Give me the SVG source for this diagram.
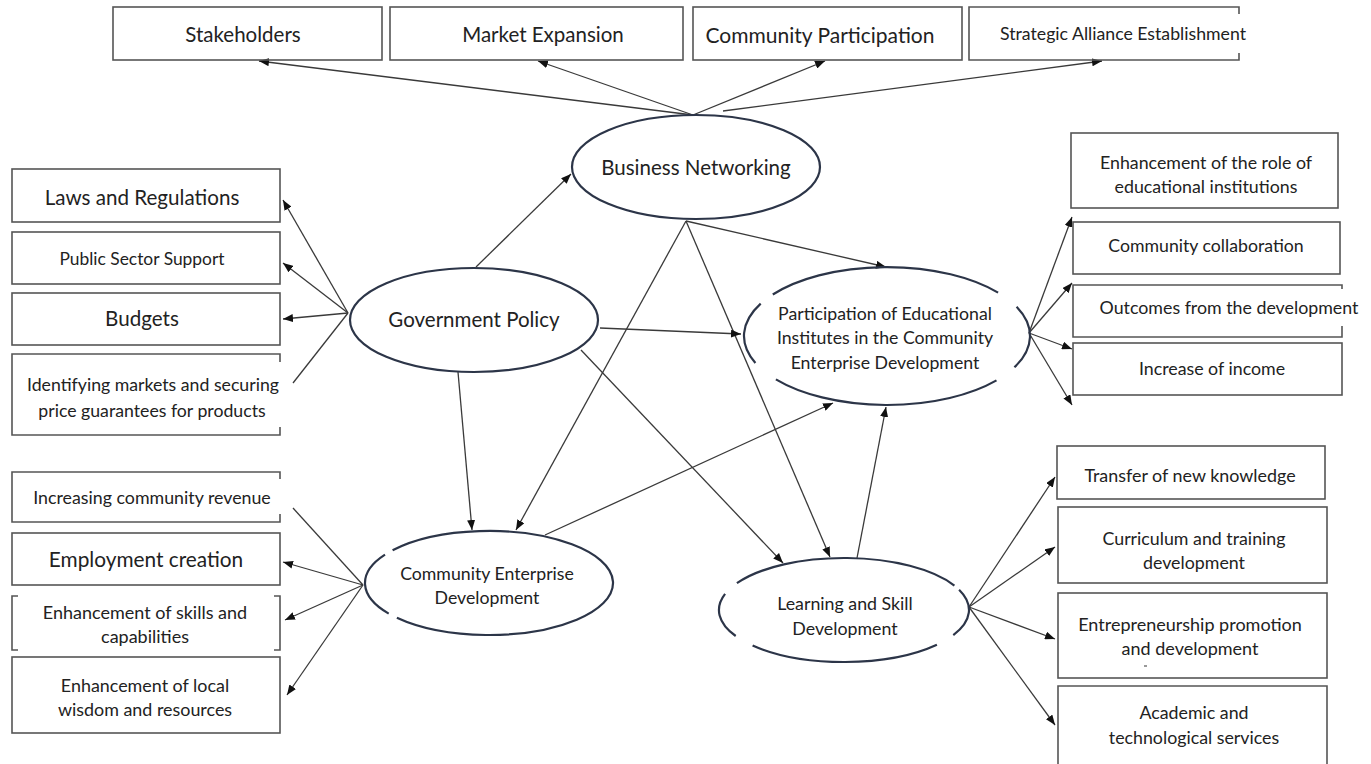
<svg xmlns="http://www.w3.org/2000/svg" width="1371" height="764" viewBox="0 0 1371 764">
<style>
.bx{fill:none;stroke:#555;stroke-width:1.6}
.el{fill:none;stroke:#2c3548;stroke-width:2.2}
.ln{fill:none;stroke:#3a3a3a;stroke-width:1.3}
.ah{marker-end:url(#arr)}
text{font-family:Lato,"Liberation Sans",sans-serif;fill:#222;text-anchor:middle;dominant-baseline:central}
</style>
<defs>
<marker id="arr" markerUnits="userSpaceOnUse" markerWidth="10" markerHeight="8" refX="10" refY="4" orient="auto">
<path d="M0,0 L10,4 L0,8 z" fill="#111"/>
</marker>
</defs>
<rect width="1371" height="764" fill="#fff"/>

<g id="connectors">
<path class="ln ah" d="M693,115 L259,61"/>
<path class="ln ah" d="M693,115 L538,61"/>
<path class="ln ah" d="M693,115 L825,61"/>
<path class="ln ah" d="M723,111 L1102,61"/>
<path class="ln ah" d="M348,313 L283,200"/>
<path class="ln ah" d="M348,313 L283,263"/>
<path class="ln ah" d="M348,313 L283,319"/>
<path class="ln" d="M348,313 L293,383"/>
<path class="ln" d="M363,585 L293,508"/>
<path class="ln ah" d="M363,585 L283,562"/>
<path class="ln ah" d="M363,585 L285,620"/>
<path class="ln ah" d="M363,585 L287,695"/>
<path class="ln ah" d="M1029,333 L1072,217"/>
<path class="ln ah" d="M1029,333 L1072,283"/>
<path class="ln ah" d="M1029,333 L1072,349"/>
<path class="ln ah" d="M1029,333 L1072,405"/>
<path class="ln ah" d="M969,607 L1055,477"/>
<path class="ln ah" d="M969,607 L1055,547"/>
<path class="ln ah" d="M969,607 L1055,639"/>
<path class="ln ah" d="M969,607 L1055,725"/>
<path class="ln ah" d="M476,267 L571,174"/>
<path class="ln ah" d="M686,221 L886,267"/>
<path class="ln ah" d="M686,221 L516,530"/>
<path class="ln ah" d="M686,221 L830,557"/>
<path class="ln ah" d="M600,328 L741,334"/>
<path class="ln ah" d="M458,372 L472,530"/>
<path class="ln ah" d="M581,350 L783,563"/>
<path class="ln ah" d="M545,535 L833,403"/>
<path class="ln ah" d="M857,558 L886,407"/>
</g>

<g id="stakeholders"><rect class="bx" x="113" y="7" width="269" height="53"/><text x="243" y="34" font-size="20.5">Stakeholders</text></g>
<g id="market-expansion"><rect class="bx" x="390" y="7" width="293" height="53"/><text x="543" y="34" font-size="20.5">Market Expansion</text></g>
<g id="community-participation"><rect class="bx" x="693" y="7" width="269" height="53"/><text x="820" y="34" font-size="21">Community Participation</text></g>
<g id="strategic-alliance"><path class="bx" d="M1239,14 V7 H969 V60 H1239 V53"/><text x="1123" y="33" font-size="17.7">Strategic Alliance Establishment</text></g>

<g id="business-networking"><ellipse class="el" cx="696" cy="167" rx="124" ry="52"/><text x="696" y="167" font-size="20.5">Business Networking</text></g>
<g id="government-policy"><ellipse class="el" cx="474" cy="320" rx="124" ry="52"/><text x="474" y="319" font-size="20.5">Government Policy</text></g>
<g id="participation">
<path class="el" d="M772.8,294.5 A143,69 0 0 1 998.1,292.6 M1016.6,306.8 A143,69 0 0 1 1014.4,367.3 M996.5,380.4 A143,69 0 0 1 775.9,379.4 M755.4,363 A143,69 0 0 1 760.7,303.6"/>
<text x="885" y="313" font-size="17.7">Participation of Educational</text>
<text x="885" y="337" font-size="17.7">Institutes in the Community</text>
<text x="885" y="362" font-size="17.7">Enterprise Development</text>
</g>
<g id="community-enterprise">
<path class="el" d="M392.6,550.3 A124,52 0 1 1 396.9,617.8 M388.7,613.6 A124,52 0 0 1 385,554.7"/>
<text x="487" y="573" font-size="17.7">Community Enterprise</text>
<text x="487" y="597" font-size="17.7">Development</text>
</g>
<g id="learning-skill">
<path class="el" d="M736.9,583.2 A125,52 0 0 1 954.4,585.6 M959.1,589.7 A125,52 0 0 1 953.3,635.2 M936.9,644.8 A125,52 0 0 1 752.6,645.5 M735.7,636 A125,52 0 0 1 725.1,593.9"/>
<text x="845" y="603" font-size="17.8">Learning and Skill</text>
<text x="845" y="628" font-size="17.8">Development</text>
</g>

<g id="laws"><rect class="bx" x="12" y="169" width="268" height="53"/><text x="142" y="197" font-size="20.6">Laws and Regulations</text></g>
<g id="public-sector"><rect class="bx" x="12" y="232" width="268" height="52"/><text x="142" y="258" font-size="17.4">Public Sector Support</text></g>
<g id="budgets"><rect class="bx" x="12" y="293" width="268" height="52"/><text x="142" y="318" font-size="20.6">Budgets</text></g>
<g id="identifying"><path class="bx" d="M280,362 V354 H12 V435 H280 V427"/><text x="153" y="384" font-size="17.7">Identifying markets and securing</text><text x="152" y="410" font-size="17.7">price guarantees for products</text></g>

<g id="increasing-revenue"><path class="bx" d="M280,479 V472 H12 V522 H280 V514"/><text x="152" y="497" font-size="17.8">Increasing community revenue</text></g>
<g id="employment"><rect class="bx" x="12" y="533" width="268" height="52"/><text x="146" y="558" font-size="20.8">Employment creation</text></g>
<g id="skills"><path class="bx" d="M18,596 H12 V650 H18 M274,596 H280 V650 H274"/><text x="145" y="612" font-size="18">Enhancement of skills and</text><text x="145" y="636" font-size="18">capabilities</text></g>
<g id="local-wisdom"><rect class="bx" x="12" y="657" width="268" height="76"/><text x="145" y="685" font-size="17.9">Enhancement of local</text><text x="145" y="709" font-size="17.9">wisdom and resources</text></g>

<g id="role-edu"><rect class="bx" x="1071" y="133" width="267" height="75"/><text x="1206" y="162" font-size="17.8">Enhancement of the role of</text><text x="1206" y="186" font-size="17.8">educational institutions</text></g>
<g id="collaboration"><rect class="bx" x="1073" y="222" width="267" height="52"/><text x="1206" y="245" font-size="17.7">Community collaboration</text></g>
<g id="outcomes"><path class="bx" d="M1342,289 V285 H1073 V337 H1342 V326"/><text x="1229" y="307" font-size="17.8">Outcomes from the development</text></g>
<g id="income"><rect class="bx" x="1073" y="343" width="269" height="52"/><text x="1212" y="368" font-size="17.8">Increase of income</text></g>

<g id="transfer"><rect class="bx" x="1057" y="446" width="268" height="53"/><text x="1190" y="475" font-size="17.9">Transfer of new knowledge</text></g>
<g id="curriculum"><rect class="bx" x="1058" y="507" width="269" height="76"/><text x="1194" y="538" font-size="17.8">Curriculum and training</text><text x="1194" y="562" font-size="17.8">development</text></g>
<g id="entrepreneurship"><rect class="bx" x="1058" y="593" width="269" height="85"/><text x="1190" y="624" font-size="18">Entrepreneurship promotion</text><text x="1190" y="648" font-size="18">and development</text><line x1="1144" y1="666" x2="1147" y2="666" stroke="#555" stroke-width="1.2"/></g>
<g id="academic"><path class="bx" d="M1058,770 V686 H1327 V770"/><text x="1194" y="712" font-size="17.8">Academic and</text><text x="1194" y="737" font-size="17.8">technological services</text></g>
</svg>
